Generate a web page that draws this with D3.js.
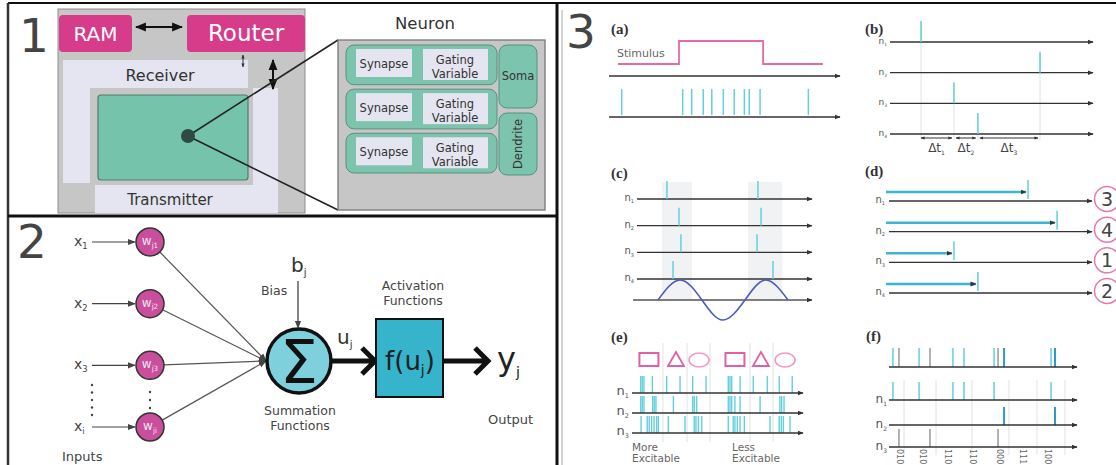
<!DOCTYPE html>
<html><head><meta charset="utf-8">
<script src="https://cdn.jsdelivr.net/npm/d3@7"></script>
<style>
body{margin:0;background:#fff;}
svg{display:block;font-family:'DejaVu Sans',sans-serif;}
</style></head><body>
<div id="chart"></div>
<script>
// ---------- data ----------
const panelNumbers = ['1','2','3'];
const neuronRows = ['Synapse','Synapse','Synapse'];
const inputSubs = ['1','2','3','i'];
const weightSubs = ['j1','j2','j3','ji'];

// panel 3 (a) stimulus + spike train (time 0..100)
const stimulusTimes = [3.9, 30.3, 30.3, 66.7, 66.7, 92.6];
const stimulusLevels = [0, 0, 1, 1, 0, 0];
const spikeTimesA = [5.5, 31.9, 35.8, 40.8, 44.5, 49.5, 54.2, 58.6, 60.7, 65.4, 86.3];
// (b) time to first spike
const neuronsB = ['1','2','3','4'];
const firstSpikeB = [15.3, 73.9, 31.5, 43.3];
const deltaSubs = ['1','2','3'];
// (c) phase coding
const spikesC = [[17.1, 69.1], [24.0, 70.9], [25.1, 68.6], [20.6, 77.7]];
const bandsC = [[14.3, 31.4], [63.4, 82.9]];
const oscTimes = [12, 24.6, 37.1, 49.1, 61.7, 73.7, 86.3];
const oscValues = [0, 1, 0, -1, 0, 1, 0];
// (d) rank order
const latencyD = [68, 82.3, 31.5, 43.3];
const rankD = ['3','4','1','2'];
// (e) population / excitability
const shapesE = ['rect','triangle','circle','rect','triangle','circle'];
const shapeTimesE = [9.9, 25.7, 39.2, 60.2, 75.4, 89.5];
const separatorsE = [18.1, 32.2, 45.6, 69.0, 82.5];
const spikesE = [
  [5.1, 6.0, 7.0, 11.9, 20.3, 28.1, 35.5, 43.3, 56.3, 57.3, 58.3, 63.2, 70.9, 79.1, 86.1, 93.7],
  [5.1, 6.0, 7.0, 12.1, 13.0, 14.0, 24.2, 35.5, 36.4, 37.8, 56.3, 57.3, 58.3, 60.2, 63.2, 74.9, 86.5, 87.5, 88.9],
  [5.3, 8.9, 10.1, 11.5, 12.9, 14.4, 15.4, 21.2, 31.0, 36.4, 37.4, 38.8, 40.8, 56.3, 59.2, 60.2, 61.6, 63.2, 65.7, 80.7, 86.1, 87.3, 88.5, 92.4]
];
// (f) binary code
const spikesF1 = [2.1, 16, 34, 39.9, 55.9, 86.2];
const spikesF2 = [61.2, 88.3];
const spikesF3 = [5.3, 21.8, 58];
const separatorsF = [8, 25, 44.1, 63.8, 78.7, 93.6];
const codeTimesF = [5.9, 18.1, 31.4, 44.7, 59, 71.3, 84.6];
const codeLabelsF = ['010','010','110','110','000','111','100'];

// ---------- canvas ----------
const svg = d3.select('#chart').append('svg').attr('width',1116).attr('height',465);
const defs = svg.append('defs');
function marker(id, size, color){
  defs.append('marker').attr('id',id).attr('viewBox','0 0 10 10')
    .attr('refX',9).attr('refY',5).attr('markerWidth',size).attr('markerHeight',size)
    .attr('markerUnits','userSpaceOnUse').attr('orient','auto-start-reverse')
    .append('path').attr('d','M0,1 L10,5 L0,9 Z').attr('fill',color);
}
marker('tip',6,'#333');
marker('big',11,'#111');
marker('tiny',4,'#333');
marker('mid',8,'#444');

function line(g,x1,y1,x2,y2,color,w){
  return g.append('line').attr('x1',x1).attr('y1',y1).attr('x2',x2).attr('y2',y2)
    .attr('stroke',color).attr('stroke-width',w);
}
function subText(g,x,y,main,sub,size,color,anchor,ratio){
  const r = ratio || 0.6;
  const t = g.append('text').attr('x',x).attr('y',y).attr('font-size',size)
    .attr('fill',color).attr('text-anchor',anchor||'start');
  t.append('tspan').text(main);
  t.append('tspan').text(sub).attr('font-size',size*r).attr('dy',size*0.22);
  return t;
}

// ---------- frame ----------
const frame = svg.append('g');
line(frame,8,3,1116,3,'#111',2);
line(frame,8,3,8,465,'#333',2.5);
line(frame,8,216,557,216,'#111',3);
line(frame,557,3,557,465,'#111',3);
line(frame,562,10,562,465,'#aaa',1);

const numPos = [[19,52],[17,258],[566,48]];
svg.selectAll('.pnum').data(panelNumbers).join('text').attr('class','pnum')
  .attr('x',(d,i)=>numPos[i][0]).attr('y',(d,i)=>numPos[i][1])
  .attr('font-size',47).attr('fill','#444').text(d=>d);

// ---------- panel 1 : chip ----------
const p1 = svg.append('g');
p1.append('rect').attr('x',58).attr('y',9).attr('width',247).attr('height',204)
  .attr('fill','#c6c6c6').attr('stroke','#8d8d8d');
const lav = '#e4e5f0';
[[63,60,185,28],[63,60,27,123],[95,185,183,28],[253,88,25,125]].forEach(r=>{
  p1.append('rect').attr('x',r[0]).attr('y',r[1]).attr('width',r[2]).attr('height',r[3]).attr('fill',lav);
});
p1.append('rect').attr('x',98).attr('y',95).attr('width',150).attr('height',85).attr('rx',3)
  .attr('fill','#74c3aa').attr('stroke','#4f7e6e').attr('stroke-width',1.2);
p1.append('text').attr('x',160).attr('y',81).attr('text-anchor','middle').attr('font-size',16).attr('fill','#333').text('Receiver');
p1.append('text').attr('x',170).attr('y',205).attr('text-anchor','middle').attr('font-size',15).attr('fill','#333').text('Transmitter');
[['RAM',59,73,20],['Router',187,118,23]].forEach(b=>{
  p1.append('rect').attr('x',b[1]).attr('y',15).attr('width',b[2]).attr('height',37).attr('rx',4).attr('fill','#d63c8a');
  p1.append('text').attr('x',b[1]+b[2]/2).attr('y',41).attr('text-anchor','middle').attr('font-size',b[3]).attr('fill','#fff').text(b[0]);
});
line(p1,136,27,182,27,'#111',2).attr('marker-start','url(#big)').attr('marker-end','url(#big)');
line(p1,243,55,243,67,'#333',1).attr('marker-start','url(#tiny)').attr('marker-end','url(#tiny)');
line(p1,273,60,273,89,'#111',2).attr('marker-start','url(#big)').attr('marker-end','url(#big)');
// zoom lines to neuron
line(p1,188,136,338,40,'#222',1.5);
line(p1,188,136,338,210,'#222',1.5);
p1.append('circle').attr('cx',188).attr('cy',136).attr('r',7).attr('fill','#2f4a42');

// neuron box
p1.append('text').attr('x',425).attr('y',29).attr('text-anchor','middle').attr('font-size',16.5).attr('fill','#333').text('Neuron');
p1.append('rect').attr('x',338).attr('y',40).attr('width',207).attr('height',170).attr('fill','#c6c6c6').attr('stroke','#777').attr('stroke-width',1.3);
const rowY = d3.scaleBand().domain(d3.range(neuronRows.length)).range([45,173]).paddingInner(0.1);
const rows = p1.selectAll('.nrow').data(neuronRows).join('g').attr('class','nrow')
  .attr('transform',(d,i)=>`translate(0,${rowY(i)})`);
rows.append('rect').attr('x',346).attr('y',0).attr('width',151).attr('height',rowY.bandwidth()).attr('rx',8)
  .attr('fill','#7cc4ad').attr('stroke','#5b8f7f');
rows.append('rect').attr('x',356).attr('y',4).attr('width',56).attr('height',28).attr('fill',lav);
rows.append('rect').attr('x',423).attr('y',4).attr('width',65).attr('height',31).attr('fill',lav);
rows.append('text').attr('x',384).attr('y',23).attr('text-anchor','middle').attr('font-size',11.5).attr('fill','#333').text(d=>d);
rows.append('text').attr('x',455).attr('y',19).attr('text-anchor','middle').attr('font-size',11.5).attr('fill','#333').text('Gating');
rows.append('text').attr('x',455).attr('y',33).attr('text-anchor','middle').attr('font-size',11.5).attr('fill','#333').text('Variable');
p1.append('rect').attr('x',499).attr('y',45).attr('width',38).attr('height',63).attr('rx',8).attr('fill','#7cc4ad').attr('stroke','#5b8f7f');
p1.append('rect').attr('x',499).attr('y',113).attr('width',38).attr('height',62).attr('rx',8).attr('fill','#7cc4ad').attr('stroke','#5b8f7f');
p1.append('text').attr('x',518).attr('y',80).attr('text-anchor','middle').attr('font-size',11.5).attr('fill','#333').text('Soma');
p1.append('text').attr('transform','translate(522,144) rotate(-90)').attr('text-anchor','middle').attr('font-size',11.5).attr('fill','#333').text('Dendrite');

// ---------- panel 2 : perceptron ----------
const p2 = svg.append('g');
const inY = d3.scalePoint().domain(weightSubs).range([242,427]);
const sumC = {x:299, y:361, r:32};
const wx = 150, wr = 14;
weightSubs.forEach((w,i)=>{
  const y = inY(w);
  subText(p2,74,y+4,'x',inputSubs[i],14,'#444');
  line(p2,92,y,wx-wr-1,y,'#444',1.2).attr('marker-end','url(#mid)');
  const dx = sumC.x - sumC.r - wx, dy = sumC.y - y, len = Math.hypot(dx,dy);
  line(p2,wx+wr*dx/len,y+wr*dy/len,sumC.x-sumC.r-1,sumC.y,'#555',1.2).attr('marker-end','url(#mid)');
  p2.append('circle').attr('cx',wx).attr('cy',y).attr('r',wr).attr('fill','#c94f9c').attr('stroke','#333').attr('stroke-width',1.5);
  subText(p2,wx,y+3,'w',w,12,'#f2e6ef','middle');
});
d3.range(5).forEach(k=>p2.append('circle').attr('cx',92).attr('cy',385+k*7.5).attr('r',1.2).attr('fill','#444'));
d3.range(3).forEach(k=>p2.append('circle').attr('cx',wx).attr('cy',392+k*8).attr('r',1.2).attr('fill','#444'));
p2.append('text').attr('x',62).attr('y',461).attr('font-size',13).attr('fill','#444').text('Inputs');

p2.append('circle').attr('cx',sumC.x).attr('cy',sumC.y).attr('r',sumC.r).attr('fill','#7fd0dd').attr('stroke','#111').attr('stroke-width',3.5);
p2.append('text').attr('x',sumC.x).attr('y',sumC.y+22).attr('text-anchor','middle').attr('font-size',60).attr('fill','#111').text('Σ');
line(p2,298,281,298,sumC.y-sumC.r-1,'#333',1.2).attr('marker-end','url(#mid)');
subText(p2,291,272,'b','j',20,'#333',null,0.5);
p2.append('text').attr('x',261).attr('y',295).attr('font-size',12.5).attr('fill','#444').text('Bias');
subText(p2,337,344,'u','j',20,'#333',null,0.5);
p2.append('text').attr('x',300).attr('y',415).attr('text-anchor','middle').attr('font-size',12.5).attr('fill','#444').text('Summation');
p2.append('text').attr('x',300).attr('y',430).attr('text-anchor','middle').attr('font-size',12.5).attr('fill','#444').text('Functions');

function thickArrow(x0,x1,y){
  p2.append('path').attr('d',`M${x0},${y} L${x1-2},${y} M${x1-13},${y-13} L${x1},${y} L${x1-13},${y+13}`)
    .attr('fill','none').attr('stroke','#111').attr('stroke-width',5).attr('stroke-linejoin','miter');
}
thickArrow(sumC.x+sumC.r,375,sumC.y);
p2.append('rect').attr('x',376).attr('y',319).attr('width',67).attr('height',78).attr('fill','#36b4cc').attr('stroke','#111').attr('stroke-width',2);
const ft = p2.append('text').attr('x',410).attr('y',370).attr('text-anchor','middle').attr('font-size',26).attr('fill','#222');
ft.append('tspan').text('f(u');
ft.append('tspan').text('j').attr('font-size',14).attr('dy',5);
ft.append('tspan').text(')').attr('dy',-5);
thickArrow(444,488,sumC.y);
subText(p2,497,370,'y','j',32,'#222',null,0.45);
p2.append('text').attr('x',413).attr('y',290).attr('text-anchor','middle').attr('font-size',12.5).attr('fill','#444').text('Activation');
p2.append('text').attr('x',413).attr('y',305).attr('text-anchor','middle').attr('font-size',12.5).attr('fill','#444').text('Functions');
p2.append('text').attr('x',488).attr('y',424).attr('font-size',13).attr('fill','#444').text('Output');

// ---------- panel 3 : coding schemes ----------
const p3 = svg.append('g');
const cyan = '#63d0de', axisC = '#333';
function axis(g,x0,x1,y,c){ line(g,x0,y,x1,y,c||axisC,1.3).attr('marker-end','url(#tip)'); }
function spikes(g,times,sc,y0,y1,color,w){
  g.selectAll(null).data(times).join('line')
    .attr('x1',d=>sc(d)).attr('x2',d=>sc(d)).attr('y1',y0).attr('y2',y1)
    .attr('stroke',color).attr('stroke-width',w||1.5);
}
function tag(g,x,y,s){
  g.append('text').attr('x',x).attr('y',y).attr('font-family','"Liberation Serif",serif')
    .attr('font-weight','bold').attr('font-size',15).attr('fill','#333').text(s);
}
function nLabel(g,x,y,sub,size){ subText(g,x,y,'n',sub,size,'#555','end',0.5); }

// (a)
const gA = p3.append('g');
const xA = d3.scaleLinear([0,100],[609,840]);
const yStim = d3.scaleLinear([0,1],[64,41]);
tag(gA,611,34,'(a)');
gA.append('text').attr('x',617).attr('y',57).attr('font-size',11).attr('fill','#666').text('Stimulus');
gA.append('path').datum(d3.zip(stimulusTimes,stimulusLevels))
  .attr('d',d3.line(d=>xA(d[0]),d=>yStim(d[1]))).attr('fill','none').attr('stroke','#e46aad').attr('stroke-width',1.8);
axis(gA,609,840,76);
spikes(gA,spikeTimesA,xA,89,115,cyan);
axis(gA,609,840,117);

// (b)
const gB = p3.append('g');
const xB = d3.scaleLinear([0,100],[890,1093]);
const rowB = d3.scalePoint().domain(neuronsB).range([42,134]);
tag(gB,865,34,'(b)');
neuronsB.forEach((n,i)=>{
  const y = rowB(n), x = xB(firstSpikeB[i]);
  line(gB,x,y-20,x,140,'#e2e2e2',1);
  axis(gB,890,1093,y);
  nLabel(gB,887,y+2,n,9);
  line(gB,x,y-21,x,y,cyan,1.5);
});
const sortedB = firstSpikeB.slice().sort(d3.ascending);
deltaSubs.forEach((s,i)=>{
  const a = xB(sortedB[i])+(i?2:0), b = xB(sortedB[i+1])-2;
  line(gB,a,138,b,138,'#333',1).attr('marker-start','url(#tiny)').attr('marker-end','url(#tiny)');
  subText(gB,(a+b)/2,152,'Δt',s,12,'#444','middle',0.5);
});

// (c)
const gC = p3.append('g');
const xC = d3.scaleLinear([0,100],[637,812]);
const rowC = d3.scalePoint().domain(neuronsB).range([199,279]);
const yOsc = d3.scaleLinear([-1,1],[320,280]);
tag(gC,611,178,'(c)');
bandsC.forEach(b=>gC.append('rect').attr('x',xC(b[0])).attr('y',182).attr('width',xC(b[1])-xC(b[0])).attr('height',118).attr('fill','#f1f2f3'));
neuronsB.forEach((n,i)=>{
  const y = rowC(n);
  axis(gC,637,812,y);
  nLabel(gC,634,y+2,n,10);
  spikes(gC,spikesC[i],xC,y-18,y,cyan);
});
axis(gC,633,812,300,'#555');
gC.append('path').datum(d3.zip(oscTimes,oscValues))
  .attr('d',d3.line(d=>xC(d[0]),d=>yOsc(d[1])).curve(d3.curveNatural))
  .attr('fill','none').attr('stroke','#4a5bc0').attr('stroke-width',1.6);

// (d)
const gD = p3.append('g');
const xD = d3.scaleLinear([0,100],[889,1092]);
const rowD = d3.scalePoint().domain(neuronsB).range([201,293]);
tag(gD,865,176,'(d)');
neuronsB.forEach((n,i)=>{
  const y = rowD(n), x = xD(latencyD[i]);
  axis(gD,889,1092,y);
  nLabel(gD,885,y+2,n,10);
  line(gD,886,y-9,x-1,y-9,'#3fb3d3',2.5).attr('marker-end','url(#tip)');
  line(gD,x+1,y-21,x+1,y-2,cyan,1.5);
  gD.append('circle').attr('cx',1107).attr('cy',y-2).attr('r',12.5).attr('fill','#fff').attr('stroke','#e878ae').attr('stroke-width',1.5);
  gD.append('text').attr('x',1107).attr('y',y+5).attr('text-anchor','middle').attr('font-size',19).attr('fill','#444').text(rankD[i]);
});

// (e)
const gE = p3.append('g');
const xE = d3.scaleLinear([0,100],[632,803]);
const rowE = d3.scalePoint().domain(['1','2','3']).range([393,433]);
tag(gE,611,342,'(e)');
separatorsE.forEach(t=>line(gE,xE(t),343,xE(t),442,'#e2e2e2',1));
shapesE.forEach((s,i)=>{
  const cx = xE(shapeTimesE[i]);
  if(s==='rect') gE.append('rect').attr('x',cx-9.5).attr('y',353).attr('width',19).attr('height',13).attr('fill','none').attr('stroke','#e060a5').attr('stroke-width',2);
  else if(s==='triangle') gE.append('path').attr('d',`M${cx},352 L${cx+8},366 L${cx-8},366 Z`).attr('fill','none').attr('stroke','#e060a5').attr('stroke-width',1.8);
  else gE.append('ellipse').attr('cx',cx).attr('cy',360).attr('rx',10).attr('ry',7).attr('fill','none').attr('stroke','#f09cc6').attr('stroke-width',1.6);
});
['1','2','3'].forEach((n,i)=>{
  const y = rowE(n);
  spikes(gE,spikesE[i],xE,y-17,y,cyan,1.4);
  axis(gE,632,803,y);
  nLabel(gE,629,y+2,n,13);
});
[['More',632],['Less',732]].forEach(t=>{
  gE.append('text').attr('x',t[1]).attr('y',451).attr('font-size',10.5).attr('fill','#666').text(t[0]);
  gE.append('text').attr('x',t[1]).attr('y',462).attr('font-size',10.5).attr('fill','#666').text('Excitable');
});

// (f)
const gF = p3.append('g');
const xF = d3.scaleLinear([0,100],[889,1077]);
tag(gF,866,341,'(f)');
separatorsF.forEach(t=>line(gF,xF(t),380,xF(t),455,'#e2e2e2',1));
spikes(gF,spikesF1,xF,348,367,cyan);
spikes(gF,spikesF3,xF,348,367,'#999');
spikes(gF,spikesF2,xF,348,367,'#2a9cc7',2);
axis(gF,889,1077,367);
[[400,spikesF1,cyan,1.5,'1'],[425,spikesF2,'#2a9cc7',2,'2'],[447,spikesF3,'#999',1.5,'3']].forEach(r=>{
  spikes(gF,r[1],xF,r[0]-18,r[0],r[2],r[3]);
  axis(gF,889,1077,r[0]);
  nLabel(gF,887,r[0]+3,r[4],12);
});
gF.selectAll('.code').data(codeLabelsF).join('text').attr('class','code')
  .attr('transform',(d,i)=>`translate(${xF(codeTimesF[i])-3},449) rotate(90)`)
  .attr('font-size',8).attr('fill','#666').text(d=>d);
</script>
</body></html>
